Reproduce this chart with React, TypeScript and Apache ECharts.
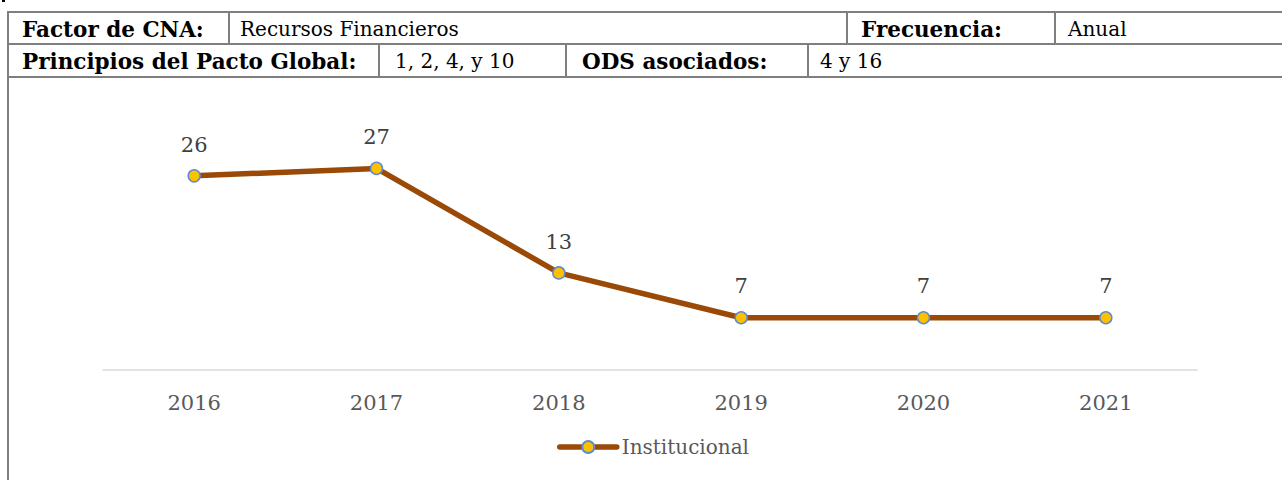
import React, { useEffect, useRef } from "react";
import * as echarts from "echarts";

const categories = ["2016", "2017", "2018", "2019", "2020", "2021"];
const institucional = [26, 27, 13, 7, 7, 7];
const seriesName = "Institucional";

const headerRow1 = [
  { text: "Factor de CNA:", bold: true, x: 22 },
  { text: "Recursos Financieros", bold: false, x: 240 },
  { text: "Frecuencia:", bold: true, x: 861 },
  { text: "Anual", bold: false, x: 1068 },
];
const headerRow2 = [
  { text: "Principios del Pacto Global:", bold: true, x: 22 },
  { text: "1, 2, 4, y 10", bold: false, x: 395 },
  { text: "ODS asociados:", bold: true, x: 582 },
  { text: "4 y 16", bold: false, x: 820 },
];
const row1Separators = [229, 847, 1055];
const row2Separators = [379, 566, 808];

const FONT = "'DejaVu Serif', 'Liberation Serif', serif";
const BORDER = "#7f7f7f";

export default function App() {
  const ref = useRef<HTMLDivElement>(null);
  useEffect(() => {
    if (!ref.current) return;
    const chart = echarts.init(ref.current, undefined, { renderer: "svg" });
    const graphics: any[] = [];
    const hline = (y: number) => ({
      type: "line",
      shape: { x1: 7, y1: y, x2: 1282, y2: y },
      style: { stroke: BORDER, lineWidth: 2 },
      silent: true,
    });
    const vline = (x: number, y1: number, y2: number) => ({
      type: "line",
      shape: { x1: x, y1, x2: x, y2 },
      style: { stroke: BORDER, lineWidth: 2 },
      silent: true,
    });
    graphics.push(hline(12), hline(44), hline(77));
    graphics.push(vline(8, 11, 480));
    row1Separators.forEach((x) => graphics.push(vline(x, 12, 44)));
    row2Separators.forEach((x) => graphics.push(vline(x, 44, 77)));
    const addText = (t: { text: string; bold: boolean; x: number }, yc: number) =>
      graphics.push({
        type: "text",
        x: t.x,
        y: yc,
        style: {
          text: t.text,
          fill: "#000000",
          font: t.bold ? `bold 21.5px ${FONT}` : `20px ${FONT}`,
          verticalAlign: "middle",
          align: "left",
        },
        silent: true,
      });
    headerRow1.forEach((t) => addText(t, 29));
    headerRow2.forEach((t) => addText(t, 61));
    graphics.push({
      type: "rect",
      shape: { x: 2, y: 0, width: 3, height: 2 },
      style: { fill: "#000" },
      silent: true,
    });

    chart.setOption({
      animation: false,
      backgroundColor: "#ffffff",
      graphic: graphics,
      grid: { left: 103, right: 85, top: 146, bottom: 110 },
      xAxis: {
        type: "category",
        data: categories,
        boundaryGap: true,
        axisLine: { show: true, lineStyle: { color: "#d9d9d9", width: 1.5 } },
        axisTick: { show: false },
        axisLabel: { color: "#595959", fontSize: 21, fontFamily: FONT, margin: 22 },
        splitLine: { show: false },
      },
      yAxis: {
        type: "value",
        min: 0,
        max: 30,
        show: false,
        splitLine: { show: false },
      },
      legend: {
        data: [seriesName],
        left: 552,
        top: 432,
        itemWidth: 57,
        itemHeight: 15,
        itemGap: 10,
        lineStyle: { width: 5.5, cap: "round" },
        textStyle: { color: "#595959", fontSize: 20, fontFamily: FONT },
      },
      series: [
        {
          name: seriesName,
          type: "line",
          data: institucional,
          symbol: "circle",
          symbolSize: 12,
          lineStyle: { color: "#9a4a06", width: 5.5, cap: "round", join: "round" },
          itemStyle: { color: "#ffc000", borderColor: "#5b8bd0", borderWidth: 1.5 },
          label: {
            show: true,
            position: "top",
            distance: 14,
            color: "#404040",
            fontSize: 21,
            fontFamily: FONT,
          },
        },
      ],
    });
    return () => chart.dispose();
  }, []);
  return (
    <div
      ref={ref}
      style={{ position: "fixed", left: 0, top: 0, width: 1282, height: 480 }}
    />
  );
}
